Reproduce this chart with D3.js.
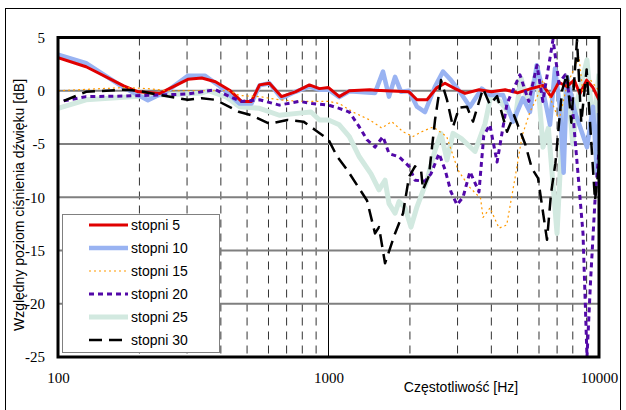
<!DOCTYPE html>
<html>
<head>
<meta charset="utf-8">
<script src="https://cdn.jsdelivr.net/npm/d3@7"></script>
<style>
  body { margin: 0; background: #fff; }
  svg { display: block; }
  .serif text { font-family: "Liberation Serif", "Times New Roman", "DejaVu Serif", serif; font-size: 15px; fill: #000; }
</style>
</head>
<body>
<svg id="chart"></svg>
<script>
// values: [frequency Hz, relative level dB]
const s5 = [[100,3.1],[127,2.25],[175,0.45],[198,-0.1],[238,-0.25],[302,1.07],[340,1.2],[382,0.85],[431,0.05],[477,-1.0],[519,-1.0],[556,0.55],[605,0.7],[670,-0.55],[754,-0.1],[850,0.55],[926,0.2],[1000,0.3],[1096,-0.55],[1194,0],[1420,0.1],[1486,0.05],[1984,-0.1],[2124,-0.85],[2313,-0.85],[2518,0.3],[2696,0.7],[2936,0.2],[3197,-0.25],[3600,0.1],[4000,-0.1],[4500,0.1],[5000,-0.2],[5600,0.2],[6209,0.5],[6650,-0.55],[7100,0.8],[7600,0.4],[8100,1.0],[8500,-0.3],[9000,1.0],[9500,0.3],[10000,-0.85]]
const s10 = [[100,3.4],[127,2.6],[175,0.3],[215,-0.9],[254,0],[302,1.4],[350,1.4],[395,0.45],[469,-1.2],[519,-1.2],[556,0.5],[605,0.7],[670,-0.7],[754,-0.1],[850,0.4],[926,0.1],[1000,0.1],[1096,-0.6],[1194,-0.05],[1486,-0.2],[1590,1.8],[1674,-0.55],[1762,1.3],[1854,-0.1],[1984,0],[2124,-1.5],[2274,-2.0],[2476,0.4],[2650,1.8],[2837,1.0],[3089,-0.25],[3335,-1.5],[3685,0.2],[3954,-0.4],[4418,-0.4],[4810,-2.9],[5236,-0.7],[5557,-2.0],[5885,2.4],[6209,0],[6590,-3.2],[6877,2.1],[7177,-1.65],[7400,-7.7],[7614,1.3],[8150,-2],[9029,-5.3],[9502,-1.5],[9831,-7.8],[10000,-2.1]]
const s15 = [[100,0],[175,0.3],[215,0.2],[254,0],[431,0],[469,-0.45],[556,-0.55],[658,-0.85],[780,-1.0],[1000,-1.0],[1096,-1.2],[1232,-2.0],[1423,-2.75],[1573,-3.5],[1713,-2.9],[1886,-3.85],[2053,-4.3],[2211,-3.85],[2434,-3.4],[2735,-4.3],[2978,-7.1],[3037,-7.6],[3335,-9.1],[3650,-10.1],[3726,-11.9],[3954,-11],[4270,-12.9],[4559,-12.6],[4892,-8.2],[5200,-4.2],[5557,-2],[5885,-0.7],[6209,1],[7116,-2.75],[7614,0.5],[8437,3.2],[8700,0],[9300,1],[10000,0]]
const s20 = [[105,-0.95],[127,-0.55],[175,-0.5],[238,-0.4],[302,-0.3],[340,-0.1],[382,0.1],[431,-0.55],[477,-1.0],[556,-0.85],[658,-1.35],[780,-1.0],[870,-1.2],[1000,-1.35],[1096,-1.65],[1194,-2.0],[1300,-3.4],[1388,-4.6],[1486,-5.3],[1590,-4.3],[1674,-5.9],[1823,-6.2],[1984,-7.1],[2088,-8.4],[2274,-8.5],[2393,-7.8],[2562,-5.9],[2696,-7.4],[2837,-9.5],[2985,-10.7],[3143,-10],[3335,-7.6],[3600,-9.5],[3750,-4.2],[3950,-3.2],[4200,-6.7],[4570,-1.2],[5100,1.5],[5500,-1.0],[5900,2.4],[6200,-1],[6761,4.8],[7116,0.7],[7500,1.5],[8000,-2],[8728,-13.4],[9029,-25],[9300,-18],[9665,-10.3],[10000,-5.6]]
const s25 = [[100,-1.65],[127,-0.85],[175,-0.6],[238,-0.4],[340,-0.2],[360,0],[420,-0.6],[469,-1.5],[556,-1.65],[658,-2.3],[780,-2.1],[862,-2.0],[926,-2.75],[1000,-2.75],[1096,-3.2],[1194,-4.3],[1300,-6.2],[1436,-7.8],[1537,-9.3],[1618,-8.4],[1674,-10.6],[1762,-11.5],[1823,-10.4],[1920,-11],[2018,-12.8],[2124,-10.9],[2313,-8.4],[2476,-5.6],[2605,-4],[2742,-6.5],[2886,-4.0],[3100,-4.5],[3481,-5.7],[3790,-3.1],[3988,-0.4],[4300,-1],[4892,-2.75],[5149,1.2],[5450,-1],[5900,1.9],[6209,-5.3],[6500,-3.5],[6996,-13.4],[7300,-4],[7614,1.3],[8000,-5],[8300,-1],[9029,2.9],[9502,-3.5],[10000,1.6]]
const s30 = [[105,-0.95],[127,-0.1],[175,0.1],[198,0],[238,-0.4],[302,-0.85],[340,-0.7],[382,-0.85],[469,-2.0],[519,-2.3],[605,-3.1],[705,-2.75],[808,-2.9],[895,-3.7],[1000,-4.6],[1078,-6.2],[1174,-7.45],[1300,-9.2],[1388,-10.3],[1486,-13.4],[1537,-12.8],[1618,-16.2],[1762,-13.4],[1886,-11.5],[1984,-8.1],[2088,-7.1],[2200,-7.5],[2235,-9.3],[2350,-8],[2476,-2.75],[2605,1.0],[2742,-0.85],[2886,-3.4],[3037,-1.6],[3250,-1.5],[3422,-2.9],[3726,0.2],[3950,-1.3],[4200,-0.5],[4570,-3.85],[4850,-2.3],[5350,-5.1],[5650,-7.3],[5950,-8.2],[6424,-14],[6650,-9.6],[6900,-6.8],[7300,0],[7614,1.6],[7900,-3],[8293,4.8],[8600,-3],[9000,2],[9665,-10.3],[10000,-7]]

const seriesNames = ['stopni 5','stopni 10','stopni 15','stopni 20','stopni 25','stopni 30']
const seriesData = [s5, s10, s15, s20, s25, s30]
const xTicks = [100, 1000, 10000]
const xMinor = [200,300,400,500,600,700,800,900,2000,3000,4000,5000,6000,7000,8000,9000]
const yTicks = [5, 0, -5, -10, -15, -20, -25]

const styles = [
  {color:'#e00000', width:3, dash:null},
  {color:'#99b3f2', width:4.5, dash:null},
  {color:'#ff9900', width:1.2, dash:'2,3'},
  {color:'#5208a8', width:3, dash:'5,4'},
  {color:'#d2e9e0', width:5, dash:null},
  {color:'#000000', width:2.5, dash:'13,7'}
]
const drawOrder = [4, 1, 0, 2, 3, 5]

const width = 626, height = 410
const plotL = 58, plotR = 599, plotT = 37.5, plotB = 357

const svg = d3.select('#chart').attr('width', width).attr('height', height)

// outer frame
svg.append('rect')
  .attr('x', 5.5).attr('y', 8.5)
  .attr('width', 615).attr('height', 410)
  .attr('fill', 'none').attr('stroke', '#000').attr('stroke-width', 1)

const x = d3.scaleLog().domain([100, 10000]).range([plotL, plotR])
const y = d3.scaleLinear().domain([-25, 5]).range([plotB, plotT])

svg.append('clipPath').attr('id', 'plot-clip')
  .append('rect').attr('x', plotL).attr('y', plotT)
  .attr('width', plotR - plotL).attr('height', plotB - plotT)

// grid
svg.append('g').selectAll('line').data(xMinor).enter().append('line')
  .attr('x1', d => x(d)).attr('x2', d => x(d))
  .attr('y1', plotT).attr('y2', plotB)
  .attr('stroke', '#333').attr('stroke-width', 1)
  .attr('stroke-dasharray', '8,6')
svg.append('line')
  .attr('x1', x(1000)).attr('x2', x(1000))
  .attr('y1', plotT).attr('y2', plotB)
  .attr('stroke', '#000').attr('stroke-width', 1)
svg.append('g').selectAll('line').data(yTicks.slice(1, -1)).enter().append('line')
  .attr('x1', plotL).attr('x2', plotR)
  .attr('y1', d => y(d)).attr('y2', d => y(d))
  .attr('stroke', '#7f7f7f').attr('stroke-width', 2)

// series
const line = d3.line().x(d => x(d[0])).y(d => y(d[1]))
const plot = svg.append('g').attr('clip-path', 'url(#plot-clip)')
drawOrder.forEach(i => {
  plot.append('path')
    .datum(seriesData[i])
    .attr('d', line)
    .attr('fill', 'none')
    .attr('stroke', styles[i].color)
    .attr('stroke-width', styles[i].width)
    .attr('stroke-dasharray', styles[i].dash)
    .attr('stroke-linejoin', 'round')
})

// plot border
svg.append('rect')
  .attr('x', plotL).attr('y', plotT)
  .attr('width', plotR - plotL).attr('height', plotB - plotT)
  .attr('fill', 'none').attr('stroke', '#000').attr('stroke-width', 3)

// axes
const yAxisG = svg.append('g').attr('class', 'serif')
  .attr('transform', `translate(${plotL - 13},0)`)
  .call(d3.axisLeft(y).tickValues(yTicks).tickSize(0).tickPadding(0).tickFormat(d => String(d)))
yAxisG.select('.domain').remove()
yAxisG.attr('font-family', null).attr('font-size', null)

const xAxisG = svg.append('g').attr('class', 'serif')
  .attr('transform', `translate(0,${plotB + 15})`)
  .call(d3.axisBottom(x).tickValues(xTicks).tickSize(0).tickPadding(0).tickFormat(d => String(d)))
xAxisG.select('.domain').remove()
xAxisG.attr('font-family', null).attr('font-size', null)

svg.append('text')
  .attr('x', 461).attr('y', 392)
  .attr('text-anchor', 'middle')
  .attr('font-family', '"Liberation Sans", Arial, sans-serif')
  .attr('font-size', 14)
  .text('Częstotliwość [Hz]')

svg.append('text')
  .attr('transform', 'translate(24,205) rotate(-90)')
  .attr('text-anchor', 'middle')
  .attr('font-family', '"Liberation Sans", Arial, sans-serif')
  .attr('font-size', 14)
  .text('Względny poziom ciśnienia dźwięku [dB]')

// legend
const legend = svg.append('g')
legend.append('rect')
  .attr('x', 62.5).attr('y', 214.5).attr('width', 157).attr('height', 138)
  .attr('fill', '#fff').attr('stroke', '#808080').attr('stroke-width', 1)
const rowY = d3.scalePoint().domain(seriesNames).range([225, 340])
seriesNames.forEach((name, i) => {
  legend.append('line')
    .attr('x1', 89).attr('x2', 128)
    .attr('y1', rowY(name)).attr('y2', rowY(name))
    .attr('stroke', styles[i].color)
    .attr('stroke-width', styles[i].width)
    .attr('stroke-dasharray', styles[i].dash)
  legend.append('text')
    .attr('x', 131).attr('y', rowY(name) + 5)
    .attr('font-family', '"Liberation Sans", Arial, sans-serif')
    .attr('font-size', 14)
    .text(name)
})
</script>
</body>
</html>
